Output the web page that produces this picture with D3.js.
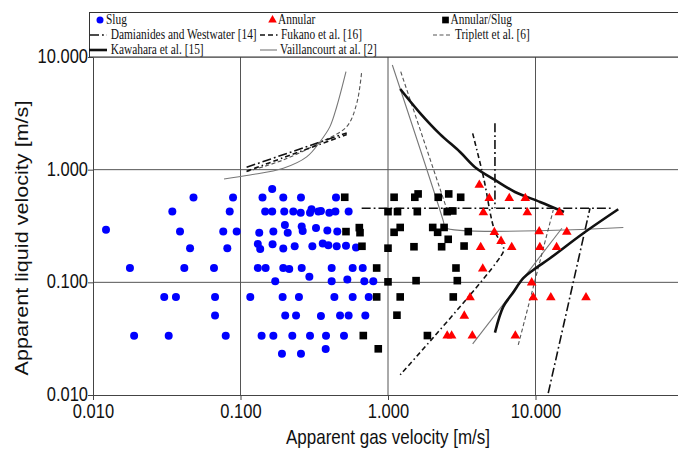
<!DOCTYPE html>
<html>
<head>
<meta charset="utf-8">
<script src="https://cdn.jsdelivr.net/npm/d3@7"></script>
<style>
  body { margin: 0; background: #fff; }
</style>
</head>
<body>
<div id="chart"></div>
<script>
// flow regime observations [gas velocity, liquid velocity] in m/s
const slugPoints = [
  [0.164, 0.674],
  [0.048, 0.567], [0.089, 0.567], [0.141, 0.567], [0.195, 0.567], [0.257, 0.567], [0.444, 0.567],
  [0.0345, 0.426], [0.0845, 0.426], [0.147, 0.426], [0.164, 0.426], [0.198, 0.426], [0.228, 0.426],
  [0.256, 0.415], [0.296, 0.415], [0.303, 0.445], [0.337, 0.426], [0.351, 0.43], [0.40, 0.415],
  [0.440, 0.426], [0.541, 0.426],
  [0.01225, 0.293], [0.0389, 0.283], [0.0764, 0.283], [0.0942, 0.283], [0.134, 0.276], [0.167, 0.283],
  [0.200, 0.323], [0.209, 0.276], [0.260, 0.313], [0.264, 0.286], [0.325, 0.304], [0.388, 0.289], [0.453, 0.283],
  [0.0455, 0.201], [0.0814, 0.201], [0.131, 0.219], [0.136, 0.198], [0.165, 0.218], [0.195, 0.200],
  [0.233, 0.209], [0.307, 0.209], [0.361, 0.221], [0.394, 0.213], [0.449, 0.209], [0.519, 0.211], [0.607, 0.204],
  [0.0178, 0.134], [0.0416, 0.134], [0.0661, 0.134], [0.131, 0.134], [0.148, 0.134], [0.195, 0.134],
  [0.214, 0.131], [0.260, 0.134], [0.415, 0.134], [0.576, 0.134], [0.674, 0.134],
  [0.293, 0.112],
  [0.172, 0.102], [0.415, 0.102], [0.530, 0.106], [0.691, 0.102], [0.795, 0.102],
  [0.0304, 0.0742], [0.0365, 0.0742], [0.0672, 0.0742], [0.1165, 0.0742], [0.193, 0.0742],
  [0.249, 0.0742], [0.433, 0.0742], [0.576, 0.0742], [0.740, 0.0742],
  [0.0672, 0.0508], [0.201, 0.0508], [0.238, 0.0508], [0.351, 0.0502], [0.473, 0.0508], [0.541, 0.0508], [0.702, 0.0508],
  [0.019, 0.0335], [0.0326, 0.0335], [0.0794, 0.0335], [0.139, 0.0335], [0.167, 0.0335], [0.2245, 0.0335],
  [0.296, 0.0335], [0.38, 0.0335], [0.503, 0.0335],
  [0.191, 0.0232], [0.257, 0.0232], [0.378, 0.0256]
];

const annularPoints = [
  [4.16, 0.731], [4.86, 0.557], [6.64, 0.557], [8.53, 0.557], [4.43, 0.417], [8.80, 0.417], [14.5, 0.417],
  [5.26, 0.278], [10.6, 0.283], [16.3, 0.280], [5.84, 0.232], [4.25, 0.205], [6.90, 0.205], [10.7, 0.205],
  [13.9, 0.205], [4.39, 0.132], [9.42, 0.0994], [3.60, 0.0734], [9.66, 0.0734], [12.7, 0.0734], [22.0, 0.0734],
  [3.29, 0.0504], [2.52, 0.0335], [2.70, 0.0335], [3.73, 0.0335], [7.30, 0.0335]
];

const annularSlugPoints = [
  [0.509, 0.569], [1.10, 0.569], [1.52, 0.569], [1.60, 0.609], [2.19, 0.569], [2.58, 0.609], [3.11, 0.569],
  [1.00, 0.424], [1.16, 0.424], [1.58, 0.424], [2.52, 0.424], [2.75, 0.43],
  [0.519, 0.282], [0.639, 0.306], [0.646, 0.276], [1.10, 0.278], [1.21, 0.307], [2.01, 0.307], [2.17, 0.278],
  [2.40, 0.307], [3.50, 0.282],
  [0.666, 0.209], [1.00, 0.201], [1.50, 0.207], [2.31, 0.207], [2.56, 0.241], [3.28, 0.210],
  [0.838, 0.134], [2.89, 0.134],
  [1.00, 0.101], [1.55, 0.1035], [2.95, 0.1035],
  [0.838, 0.0742], [1.21, 0.0742], [2.77, 0.0742],
  [1.15, 0.0511],
  [0.680, 0.0337], [1.85, 0.0337],
  [0.859, 0.0257]
];

// transition boundaries from the literature
const damianidesLines = [
  [[0.110, 1.05], [0.525, 2.12]],
  [[5.31, 2.58], [5.31, 0.4545]],
  [[0.663, 0.4545], [33.7, 0.4545]],
  [[12.2, 0.0104], [23.4, 0.4545]]
];
const fukanoLines = [
  [[0.110, 0.97], [0.525, 2.05]],
  [[3.75, 2.10], [4.43, 0.867], [5.31, 0.282], [6.05, 0.207], [6.05, 0.187], [1.21, 0.0151]]
];
const triplettLines = [
  [[0.110, 0.960], [0.195, 1.22], [0.355, 1.77], [0.525, 2.41], [0.614, 3.88], [0.663, 7.41]],
  [[1.22, 7.41], [2.49, 0.457]],
  [[7.64, 0.0278], [13.2, 0.439]]
];
const kawaharaLines = [
  [[1.21, 5.20], [1.65, 3.18], [2.25, 2.07], [3.08, 1.436], [3.95, 1.035], [5.31, 0.810], [7.26, 0.634], [10.73, 0.517], [15.6, 0.421]],
  [[5.31, 0.0358], [6.05, 0.0609], [7.00, 0.080], [8.26, 0.1088], [9.66, 0.1288], [12.54, 0.1636], [21.1, 0.2727], [36.4, 0.4453]]
];
const vaillancourtLines = [
  [[0.0773, 0.827], [0.116, 0.897], [0.195, 1.03], [0.281, 1.30], [0.346, 1.77], [0.404, 2.41], [0.449, 3.62], [0.519, 7.41]],
  [[1.07, 8.49], [2.38, 0.344], [2.43, 0.307], [39.4, 0.307]],
  [[3.75, 0.0284], [15.1, 0.302]]
];

const xTicks = [0.01, 0.1, 1, 10];
const yTicks = [0.01, 0.1, 1, 10];
const xTitle = "Apparent gas velocity [m/s]";
const yTitle = "Apparent liquid velocity [m/s]";
const legendLabels = ["Slug", "Annular", "Annular/Slug",
  "Damianides and Westwater [14]", "Fukano et al. [16]", "Triplett et al.  [6]",
  "Kawahara et al. [15]", "Vaillancourt at al. [2]"];

const width = 678, height = 450;
const margin = { top: 57, left: 93, bottom: 55 };
const stretch = 1.2; // figure text is taller than it is wide

const svg = d3.select("#chart").append("svg")
  .attr("width", width)
  .attr("height", height)
  .style("font-family", "'Liberation Sans', Arial, sans-serif");

const x = d3.scaleLog().domain([0.01, 100]).range([margin.left, margin.left + 147.5 * 4]);
const y = d3.scaleLog().domain([0.01, 10]).range([height - margin.bottom, margin.top]);

svg.append("clipPath").attr("id", "plot-clip")
  .append("rect")
  .attr("x", margin.left).attr("y", margin.top)
  .attr("width", width - margin.left).attr("height", y(0.01) - margin.top);

// grid
const grid = svg.append("g").attr("stroke", "#555").attr("stroke-width", 1);
grid.selectAll(".vgrid").data(xTicks.slice(1)).enter().append("line")
  .attr("x1", d => x(d)).attr("x2", d => x(d))
  .attr("y1", y(10)).attr("y2", y(0.01));
grid.selectAll(".hgrid").data(yTicks.slice(1)).enter().append("line")
  .attr("x1", margin.left).attr("x2", width)
  .attr("y1", d => y(d)).attr("y2", d => y(d));

// axes
const fmt = d3.format(".3f");
const xAxis = svg.append("g")
  .attr("transform", `translate(0,${y(0.01)})`)
  .call(d3.axisBottom(x).tickValues(xTicks).tickFormat(fmt).tickSize(5).tickSizeOuter(0));
xAxis.select(".domain").attr("stroke", "#444");
xAxis.selectAll(".tick line").attr("stroke", "#444");
xAxis.selectAll("text")
  .attr("y", 0).attr("dy", null)
  .attr("transform", `translate(0,23) scale(1,${stretch})`)
  .attr("fill", "#111")
  .style("font-size", "16.5px")
  .style("font-family", "'Liberation Sans', Arial, sans-serif");

const yAxis = svg.append("g")
  .attr("transform", `translate(${margin.left},0)`)
  .call(d3.axisLeft(y).tickValues(yTicks).tickFormat(fmt).tickSize(5).tickSizeOuter(0));
yAxis.select(".domain").attr("stroke", "#444");
yAxis.selectAll(".tick line").attr("stroke", "#444");
yAxis.selectAll("text")
  .attr("x", 0).attr("dy", null)
  .attr("transform", `translate(-5,5.5) scale(1,${stretch})`)
  .attr("fill", "#111")
  .style("font-size", "16.5px")
  .style("font-family", "'Liberation Sans', Arial, sans-serif");

svg.append("text")
  .attr("transform", `translate(${x(1)},${444}) scale(1,${stretch})`)
  .attr("text-anchor", "middle")
  .style("font-size", "17px")
  .attr("fill", "#111")
  .text(xTitle);

svg.append("text")
  .attr("transform", `translate(28,${238}) scale(1,${stretch}) rotate(-90)`)
  .attr("text-anchor", "middle")
  .style("font-size", "18px")
  .attr("fill", "#111")
  .text(yTitle);

// boundary lines
const plot = svg.append("g").attr("clip-path", "url(#plot-clip)");
const lineGen = d3.line()
  .x(d => x(d[0]))
  .y(d => y(d[1]))
  .curve(d3.curveCatmullRom.alpha(0.5));

const lineStyles = [
  { lines: vaillancourtLines, stroke: "#777", width: 1.1, dash: null },
  { lines: triplettLines, stroke: "#555", width: 1.1, dash: "4,2.5" },
  { lines: fukanoLines, stroke: "#111", width: 1.6, dash: "5,3,5,3,1.5,3" },
  { lines: damianidesLines, stroke: "#111", width: 1.6, dash: "9,3,1.8,3" },
  { lines: kawaharaLines, stroke: "#111", width: 2.6, dash: null }
];
lineStyles.forEach(s => {
  plot.selectAll(null)
    .data(s.lines)
    .enter().append("path")
    .attr("d", lineGen)
    .attr("fill", "none")
    .attr("stroke", s.stroke)
    .attr("stroke-width", s.width)
    .attr("stroke-dasharray", s.dash);
});

// markers
const triangle = d3.symbol(d3.symbolTriangle, 40);
const square = d3.symbol(d3.symbolSquare, 58);

plot.selectAll(".slug")
  .data(slugPoints)
  .enter().append("circle")
  .attr("cx", d => x(d[0]))
  .attr("cy", d => y(d[1]))
  .attr("r", 4)
  .attr("fill", "#0000ff");

plot.selectAll(".annular")
  .data(annularPoints)
  .enter().append("path")
  .attr("transform", d => `translate(${x(d[0])},${y(d[1])})`)
  .attr("d", triangle)
  .attr("fill", "#ff0000");

plot.selectAll(".annular-slug")
  .data(annularSlugPoints)
  .enter().append("path")
  .attr("transform", d => `translate(${x(d[0])},${y(d[1])})`)
  .attr("d", square)
  .attr("fill", "#000");

// legend
const legend = svg.append("g")
  .style("font-family", "'Liberation Serif', 'Times New Roman', serif")
  .style("font-size", "11.4px");

legend.append("rect")
  .attr("x", 89.5).attr("y", 12.5)
  .attr("width", width).attr("height", margin.top - 12.5)
  .attr("fill", "#fff")
  .attr("stroke", "#333");

const rowY = [20, 35, 50];
const legendText = (label, tx, ty) => legend.append("text")
  .attr("transform", `translate(${tx},${ty + 4.3}) scale(1,${stretch})`)
  .attr("fill", "#111")
  .text(label);

legend.append("circle").attr("cx", 100).attr("cy", rowY[0]).attr("r", 3.5).attr("fill", "#0000ff");
legendText(legendLabels[0], 106, rowY[0]);
legend.append("path").attr("transform", `translate(272.5,${rowY[0]})`).attr("d", d3.symbol(d3.symbolTriangle, 32)).attr("fill", "#ff0000");
legendText(legendLabels[1], 278, rowY[0]);
legend.append("path").attr("transform", `translate(445.5,${rowY[0]})`).attr("d", d3.symbol(d3.symbolSquare, 45)).attr("fill", "#000");
legendText(legendLabels[2], 450.5, rowY[0]);

const legendLine = (x1, x2, ly, style) => legend.append("line")
  .attr("x1", x1).attr("x2", x2).attr("y1", ly).attr("y2", ly)
  .attr("stroke", style.stroke)
  .attr("stroke-width", style.width)
  .attr("stroke-dasharray", style.dash);

legendLine(90, 107, rowY[1], lineStyles[3]);
legendText(legendLabels[3], 110.7, rowY[1]);
legendLine(260, 280, rowY[1], lineStyles[2]);
legendText(legendLabels[4], 281, rowY[1]);
legendLine(433, 452, rowY[1], lineStyles[1]);
legendText(legendLabels[5], 455, rowY[1]);
legendLine(89, 107, rowY[2], lineStyles[4]);
legendText(legendLabels[6], 110.7, rowY[2]);
legendLine(260, 277, rowY[2], lineStyles[0]);
legendText(legendLabels[7], 280, rowY[2]);
</script>
</body>
</html>
